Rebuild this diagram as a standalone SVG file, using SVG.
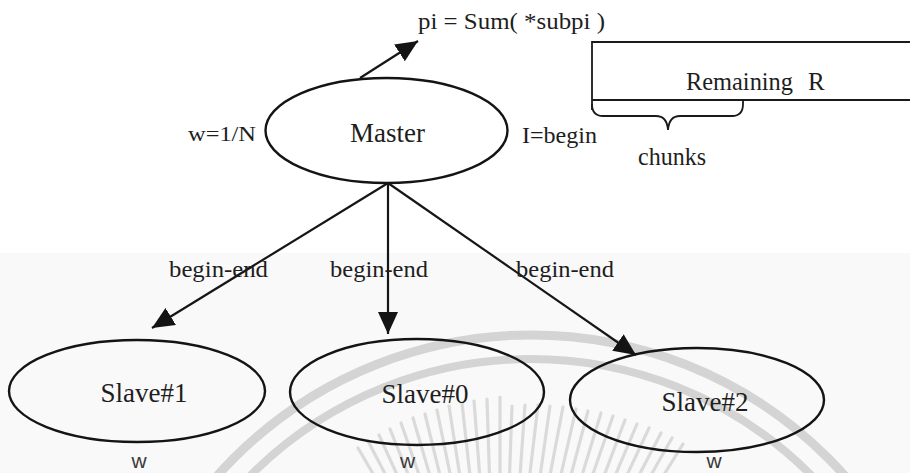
<svg xmlns="http://www.w3.org/2000/svg" width="910" height="473" viewBox="0 0 910 473">
  <style>
    .serif { font-family: "Liberation Serif", "Times New Roman", serif; fill: #1e1e1e; }
    .sans { font-family: "Liberation Sans", Arial, sans-serif; fill: #3a3a3a; }
    .node { fill: none; stroke: #141414; stroke-width: 2.4; }
    .edge { fill: none; stroke: #161616; stroke-width: 2.2; }
    .thin { fill: none; stroke: #1a1a1a; stroke-width: 1.8; }
    .seal { fill: none; stroke: #d4d4d4; }
  </style>
  <defs>
    <marker id="arrow" markerUnits="userSpaceOnUse" markerWidth="22" markerHeight="20" refX="22" refY="10" orient="auto">
      <path d="M0,0 L22,10 L0,20 z" fill="#141414"/>
    </marker>
  </defs>

  <!-- paper -->
  <rect x="0" y="0" width="910" height="473" fill="#ffffff"/>
  <rect x="0" y="253" width="910" height="220" fill="#f9f9f9"/>

  <!-- faint seal in the background -->
  <g id="seal">
    <circle class="seal" cx="531" cy="755" r="420" stroke-width="9"/>
    <circle class="seal" cx="531" cy="755" r="396" stroke-width="8"/>
    <g stroke="#dadada" stroke-width="3.2" stroke-linecap="round">
      <path d="M358,448 L400,520 M368,441 L407,516 M379,435 L414,512 M390,429 L422,509 M401,423 L430,506 M413,418 L438,503 M425,414 L446,500 M437,410 L455,498 M449,406 L463,496 M462,403 L472,494 M474,401 L481,492 M487,399 L490,491 M500,397 L500,491 M512,406 L509,490 M525,405 L519,490 M538,405 L528,490 M550,406 L538,491 M563,407 L547,491 M576,409 L557,492 M588,411 L566,494 M601,413 L576,495 M613,416 L585,497 M625,420 L595,500 M637,424 L604,502 M649,428 L613,505 M661,433 L622,508 M672,438 L630,512 M683,444 L639,515"/>
    </g>
  </g>

  <!-- connectors -->
  <g id="connectors">
    <line class="edge" x1="360" y1="78" x2="418" y2="41" marker-end="url(#arrow)"/>
    <line class="edge" x1="388" y1="183" x2="152" y2="328" marker-end="url(#arrow)"/>
    <line class="edge" x1="388" y1="183" x2="388" y2="334" marker-end="url(#arrow)"/>
    <line class="edge" x1="388" y1="183" x2="636" y2="355" marker-end="url(#arrow)"/>
  </g>

  <!-- edge labels -->
  <g id="edge-labels" class="serif" font-family="Liberation Serif, serif" font-size="23">
    <text x="169" y="277" textLength="99" lengthAdjust="spacingAndGlyphs">begin-end</text>
    <text x="330" y="277" textLength="98" lengthAdjust="spacingAndGlyphs">begin-end</text>
    <text x="516" y="277" textLength="98" lengthAdjust="spacingAndGlyphs">begin-end</text>
  </g>

  <!-- result formula -->
  <text id="formula" class="serif" font-family="Liberation Serif, serif" x="418" y="29" font-size="24" textLength="187" lengthAdjust="spacingAndGlyphs">pi = Sum( *subpi )</text>

  <!-- master -->
  <g id="master" class="serif" font-family="Liberation Serif, serif">
    <ellipse class="node" cx="386.5" cy="130.5" rx="121" ry="52.5"/>
    <text x="387.5" y="141.5" font-size="27" text-anchor="middle">Master</text>
    <text x="188" y="141" font-size="22" textLength="68" lengthAdjust="spacingAndGlyphs">w=1/N</text>
    <text x="522" y="143" font-size="23" textLength="75" lengthAdjust="spacingAndGlyphs">I=begin</text>
  </g>

  <!-- remaining range with chunk brace -->
  <g id="remaining" class="serif" font-family="Liberation Serif, serif">
    <path class="thin" d="M910,42 L592,42 L592,110 M592,100 L910,100"/>
    <path class="thin" d="M592,104 Q592,116 603,116 L656,116 Q667,116 668,130 Q669,116 680,116 L732,116 Q743,116 743,104 L743,100"/>
    <text x="686" y="90" font-size="25"><tspan textLength="107" lengthAdjust="spacingAndGlyphs">Remaining</tspan><tspan x="808">R</tspan></text>
    <text x="638" y="165" font-size="25" textLength="68" lengthAdjust="spacingAndGlyphs">chunks</text>
  </g>

  <!-- slaves -->
  <g id="slave1">
    <ellipse class="node" cx="137" cy="391" rx="128" ry="51"/>
    <text class="serif" font-family="Liberation Serif, serif" x="144" y="402" font-size="27" text-anchor="middle">Slave#1</text>
    <text class="sans" x="139" y="468" font-size="21" text-anchor="middle">w</text>
  </g>
  <g id="slave0">
    <ellipse class="node" cx="417" cy="392" rx="127" ry="53"/>
    <text class="serif" font-family="Liberation Serif, serif" x="425" y="403" font-size="27" text-anchor="middle">Slave#0</text>
    <text class="sans" x="407.5" y="468" font-size="21" text-anchor="middle">w</text>
  </g>
  <g id="slave2">
    <ellipse class="node" cx="697" cy="400" rx="127" ry="52"/>
    <text class="serif" font-family="Liberation Serif, serif" x="705" y="411" font-size="27" text-anchor="middle">Slave#2</text>
    <text class="sans" x="714" y="468" font-size="21" text-anchor="middle">w</text>
  </g>
</svg>
